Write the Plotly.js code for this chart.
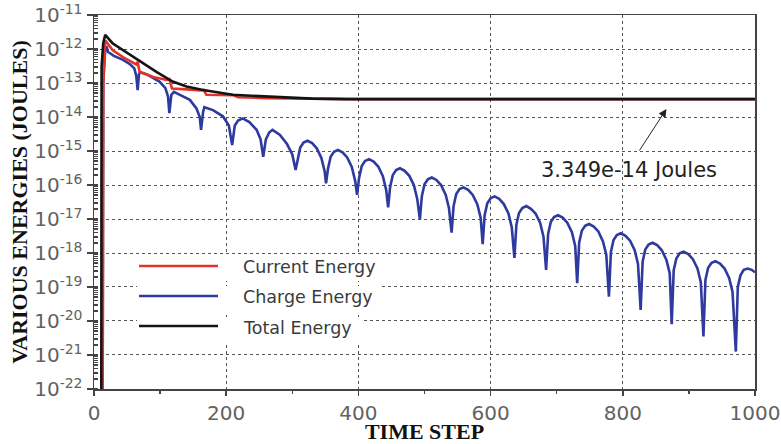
<!DOCTYPE html>
<html>
<head>
<meta charset="utf-8">
<script src="https://cdn.plot.ly/plotly-3.0.1.min.js"></script>
<style>html,body{margin:0;padding:0;background:#fff;}#chart{width:781px;height:444px;}</style>
</head>
<body>
<div id="chart"></div>
<script>
// ---- data ----
var totalTime   = [11, 11.5, 14, 17, 28, 45, 69, 95, 119, 140, 165, 190, 210, 250, 281, 330, 380, 1000];
var totalEnergy = [1e-23, 3e-13, 1.5e-12, 2.6e-12, 1.48e-12, 8.9e-13, 4.3e-13, 2.1e-13, 1.1e-13, 7.9e-14, 6.2e-14, 5.1e-14, 4.5e-14, 4.1e-14, 3.8e-14, 3.47e-14, 3.349e-14, 3.349e-14];

var currentTime   = [13, 14, 17, 28, 45, 64, 66, 69, 90, 110, 114, 118, 140, 163, 166, 170, 210, 218, 260, 300, 350, 400, 1000];
var currentEnergy = [1e-23, 1e-13, 1.8e-12, 9.3e-13, 5.6e-13, 3.5e-13, 4.2e-13, 2.1e-13, 1.5e-13, 1.23e-13, 1.3e-13, 6.9e-14, 6.5e-14, 6.0e-14, 6.3e-14, 4.5e-14, 4.4e-14, 3.8e-14, 3.6e-14, 3.5e-14, 3.4e-14, 3.349e-14, 3.349e-14];

var chargeTime = [13, 14, 17, 19, 21, 30, 44, 55, 61, 64, 66, 68, 70, 80, 99, 108, 112, 114, 117, 121, 130, 145, 155, 160, 162, 165, 167, 180, 195, 204, 209, 213, 218, 225, 235, 246, 252, 256, 260, 265, 270, 281, 292, 300,
  305, 308, 312, 317, 323, 330, 337, 344, 349,
  351, 354, 358, 363, 369, 376, 383, 390, 395,
  398, 401, 405, 410, 416, 423, 430, 437, 442,
  445, 448, 452, 457, 463, 470, 477, 484, 489,
  493, 496, 500, 505, 511, 518, 525, 532, 537,
  541, 544, 548, 553, 559, 566, 573, 580, 585,
  588, 591, 595, 600, 606, 613, 620, 627, 632,
  636, 639, 643, 648, 654, 661, 668, 675, 680,
  684, 687, 691, 696, 702, 709, 716, 723, 728,
  731, 734, 738, 743, 749, 756, 763, 770, 775,
  779, 782, 786, 791, 797, 804, 811, 818, 823,
  827, 830, 834, 839, 845, 852, 859, 866, 871,
  874, 877, 881, 886, 892, 899, 906, 913, 918,
  922, 925, 929, 934, 940, 947, 954, 961, 966,
  971, 974, 978, 983, 989, 995, 1000];
var chargeEnergy = [1e-23, 1e-13, 1.0e-12, 1.2e-12, 8.3e-13, 6.3e-13, 4.8e-13, 3.5e-13, 2.7e-13, 1.6e-13, 6.2e-14, 1.8e-13, 2.1e-13, 1.8e-13, 1.1e-13, 7.1e-14, 4.0e-14, 1.3e-14, 4.5e-14, 5.5e-14, 4.5e-14, 3.2e-14, 1.8e-14, 1.0e-14, 4.2e-15, 1.4e-14, 1.95e-14, 1.6e-14, 1.05e-14, 5.6e-15, 1.5e-15, 5.6e-15, 7.9e-15, 9.1e-15, 7.1e-15, 4.2e-15, 2.2e-15, 6.8e-16, 2.2e-15, 3.5e-15, 4.2e-15, 3.0e-15, 1.6e-15, 7.9e-16,
  2.75e-16, 5.6e-16, 1.26e-15, 1.78e-15, 2.0e-15, 1.7e-15, 1.2e-15, 6.3e-16, 2.5e-16,
  1.12e-16, 3.0e-16, 6.8e-16, 9.5e-16, 1.07e-15, 9.1e-16, 6.5e-16, 3.4e-16, 1.35e-16,
  5.1e-17, 1.62e-16, 3.6e-16, 5.1e-16, 5.75e-16, 4.9e-16, 3.5e-16, 1.82e-16, 7.2e-17,
  2.2e-17, 8.7e-17, 1.95e-16, 2.75e-16, 3.1e-16, 2.6e-16, 1.86e-16, 9.8e-17, 3.9e-17,
  9.8e-18, 4.7e-17, 1.05e-16, 1.48e-16, 1.66e-16, 1.41e-16, 1.0e-16, 5.2e-17, 2.1e-17,
  4.0e-18, 2.4e-17, 5.4e-17, 7.6e-17, 8.5e-17, 7.2e-17, 5.1e-17, 2.7e-17, 1.07e-17,
  1.82e-18, 1.29e-17, 2.9e-17, 4.1e-17, 4.6e-17, 3.9e-17, 2.75e-17, 1.45e-17, 5.75e-18,
  7.2e-19, 6.8e-18, 1.51e-17, 2.1e-17, 2.4e-17, 2.0e-17, 1.45e-17, 7.6e-18, 3.0e-18,
  3.2e-19, 3.6e-18, 8.1e-18, 1.15e-17, 1.29e-17, 1.1e-17, 7.8e-18, 4.1e-18, 1.62e-18,
  1.29e-19, 2.0e-18, 4.5e-18, 6.3e-18, 7.1e-18, 6.0e-18, 4.3e-18, 2.2e-18, 8.9e-19,
  5.2e-20, 1.07e-18, 2.4e-18, 3.4e-18, 3.8e-18, 3.2e-18, 2.3e-18, 1.2e-18, 4.8e-19,
  2.1e-20, 5.6e-19, 1.26e-18, 1.78e-18, 2.0e-18, 1.7e-18, 1.2e-18, 6.3e-19, 2.5e-19,
  8.1e-21, 3.1e-19, 6.9e-19, 9.8e-19, 1.1e-18, 9.3e-19, 6.6e-19, 3.5e-19, 1.38e-19,
  3.5e-21, 1.62e-19, 3.6e-19, 5.1e-19, 5.75e-19, 4.9e-19, 3.5e-19, 1.82e-19, 7.2e-20,
  1.26e-21, 1.0e-19, 2.2e-19, 3.2e-19, 3.5e-19, 3.2e-19, 2.7e-19];

var seriesNames = ['Current Energy', 'Charge Energy', 'Total Energy'];
var xTicks = [0, 200, 400, 600, 800, 1000];
var yTickVals = [1e-22, 1e-21, 1e-20, 1e-19, 1e-18, 1e-17, 1e-16, 1e-15, 1e-14, 1e-13, 1e-12, 1e-11];
var yTickText = ['10<sup>-22</sup>', '10<sup>-21</sup>', '10<sup>-20</sup>', '10<sup>-19</sup>', '10<sup>-18</sup>', '10<sup>-17</sup>',
                 '10<sup>-16</sup>', '10<sup>-15</sup>', '10<sup>-14</sup>', '10<sup>-13</sup>', '10<sup>-12</sup>', '10<sup>-11</sup>'];
var finalLabel = '3.349e-14 Joules';
var arrowTipTime = 866;
var arrowTipEnergy = 1.72e-14;
var labelTime = 810;
var labelEnergy = 2.75e-16;

// ---- styling ----
var RED = '#e2342b', BLUE = '#2e3a9e', BLACK = '#141414';
var tickFont = {family: 'DejaVu Sans', size: 20, color: '#626262'};
var titleFont = {family: 'Liberation Serif, Times New Roman, serif', size: 22, color: '#111'};
var legFont = {family: 'DejaVu Sans', size: 17.5, color: '#3a3a3a'};

var traces = [
  {x: chargeTime, y: chargeEnergy, mode: 'lines', name: seriesNames[1], line: {color: BLUE, width: 2.6}},
  {x: currentTime, y: currentEnergy, mode: 'lines', name: seriesNames[0], line: {color: RED, width: 2.6}},
  {x: totalTime, y: totalEnergy, mode: 'lines', name: seriesNames[2], line: {color: BLACK, width: 2.6}}
];

// manual legend (long sample lines like the reference)
var legRowsY = [0.3289, 0.2487, 0.1684];
var legColors = [RED, BLUE, BLACK];
var shapes = [
  {type: 'rect', xref: 'paper', yref: 'paper', x0: 0.0651, x1: 0.4387, y0: 0.2888, y1: 0.3583, fillcolor: '#fff', line: {width: 0}, layer: 'above'},
  {type: 'rect', xref: 'paper', yref: 'paper', x0: 0.0651, x1: 0.4357, y0: 0.2059, y1: 0.2754, fillcolor: '#fff', line: {width: 0}, layer: 'above'},
  {type: 'rect', xref: 'paper', yref: 'paper', x0: 0.0651, x1: 0.4070, y0: 0.1230, y1: 0.1925, fillcolor: '#fff', line: {width: 0}, layer: 'above'}
];
var annotations = [];
for (var i = 0; i < 3; i++) {
  shapes.push({type: 'line', xref: 'paper', yref: 'paper', x0: 0.0681, x1: 0.1876, y0: legRowsY[i], y1: legRowsY[i], line: {color: legColors[i], width: 2.6}, layer: 'above'});
  annotations.push({xref: 'paper', yref: 'paper', x: 0.2224, y: legRowsY[i] - 0.004, xanchor: 'left', yanchor: 'middle', text: seriesNames[i], showarrow: false, font: legFont});
}
annotations.push({x: arrowTipTime, y: Math.log10(arrowTipEnergy), xref: 'x', yref: 'y', text: '', showarrow: true, arrowhead: 2, arrowsize: 1.6, arrowwidth: 1, arrowcolor: '#222', ax: -28, ay: 43, standoff: 0});
annotations.push({x: labelTime, y: Math.log10(labelEnergy), xref: 'x', yref: 'y', text: finalLabel, showarrow: false, xanchor: 'center', yanchor: 'middle', font: {family: 'DejaVu Sans', size: 21, color: '#222'}});

var axisCommon = {
  showline: true, linecolor: '#444', linewidth: 1.5, mirror: true,
  showgrid: true, gridcolor: '#555', griddash: 'dot', gridwidth: 1,
  zeroline: false, ticks: 'outside', ticklen: 5, tickwidth: 1.5, tickcolor: '#444',
  tickfont: tickFont
};

var layout = {
  width: 781, height: 444,
  margin: {l: 94, r: 26, t: 15, b: 55},
  paper_bgcolor: '#fff', plot_bgcolor: '#fff',
  showlegend: false,
  xaxis: Object.assign({}, axisCommon, {
    range: [0, 1000], tickmode: 'array', tickvals: xTicks,
    minor: {dtick: 100, ticks: 'outside', ticklen: 3, tickcolor: '#444', showgrid: false},
    title: {text: '<b>TIME STEP</b>', font: titleFont, standoff: 4}
  }),
  yaxis: Object.assign({}, axisCommon, {
    type: 'log', range: [-22.0005, -10.9995], tickmode: 'array', tickvals: yTickVals, ticktext: yTickText, ticklen: 6,
    minor: {ticks: 'inside', ticklen: 4, tickcolor: '#444', showgrid: false, dtick: 'D1'},
    title: {text: '<b>VARIOUS ENERGIES (JOULES)</b>', font: titleFont, standoff: 0}
  }),
  shapes: shapes,
  annotations: annotations
};

Plotly.newPlot('chart', traces, layout, {displayModeBar: false, staticPlot: true});
</script>
</body>
</html>
